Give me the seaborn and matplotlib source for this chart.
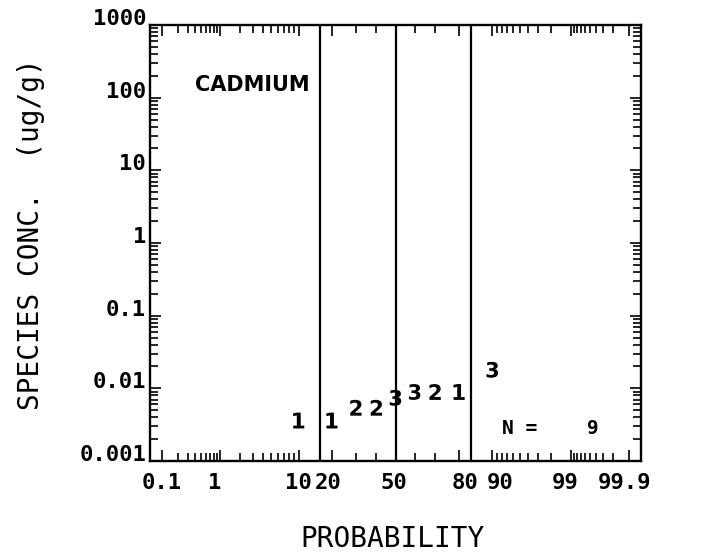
import numpy as np
import matplotlib
matplotlib.use("Agg")
import matplotlib.pyplot as plt
import matplotlib.transforms as mtransforms
from matplotlib.ticker import NullFormatter
import pandas as pd
import seaborn as sns
from statistics import NormalDist

# ranked samples: plotting position (%), concentration (ug/g), digit drawn
prob_pct = [10, 20, 30, 40, 50, 60, 70, 80, 90]
conc_ugg = [0.0036, 0.0036, 0.0054, 0.0054, 0.0074, 0.0089, 0.0089, 0.0089, 0.018]
digits = ["1", "1", "2", "2", "3", "3", "2", "1", "3"]
n_samples = 9

# mean and +/- 1 sigma reference lines
ref_lines_pct = [15.87, 50, 84.13]

x_ticks = [0.1, 1, 10, 20, 50, 80, 90, 99, 99.9]
x_tick_labels = ["0.1", "1", "10", "20", "50", "80", "90", "99", "99.9"]
x_minor_ticks = ([0.2, 0.3, 0.4, 0.5, 0.6, 0.7, 0.8, 0.9] + [2, 3, 4, 5, 6, 7, 8, 9]
                 + [30, 40, 60, 70] + [91, 92, 93, 94, 95, 96, 97, 98]
                 + [99.1, 99.2, 99.3, 99.4, 99.5, 99.6, 99.7, 99.8])
y_ticks = [0.001, 0.01, 0.1, 1, 10, 100, 1000]
y_tick_labels = ["0.001", "0.01", "0.1", "1", "10", "100", "1000"]

df = pd.DataFrame({"prob": prob_pct, "conc": conc_ugg, "count": digits})

sns.set_style("ticks")
plt.rcParams["font.family"] = ["DejaVu Sans Mono", "DejaVu Sans"]
plt.rcParams["text.color"] = "black"
plt.rcParams["axes.labelcolor"] = "black"

nd = NormalDist()
_ppf = np.vectorize(nd.inv_cdf, otypes=[float])
_cdf = np.vectorize(nd.cdf, otypes=[float])


def to_z(p):
    p = np.clip(np.asarray(p, dtype=float), 1e-4, 100 - 1e-4)
    return _ppf(p / 100.0)


def from_z(z):
    return _cdf(np.asarray(z, dtype=float)) * 100.0


fig = plt.figure(figsize=(7.04, 5.57), dpi=100)
ax = fig.add_axes([0.2131, 0.1724, 0.6974, 0.7827])
ax.set_xscale("function", functions=(to_z, from_z))
ax.set_yscale("log")

marker_map = {d: "$\\mathbf{%s}$" % d for d in sorted(set(digits))}
sns.scatterplot(data=df, x="prob", y="conc", style="count", markers=marker_map,
                s=130, color="black", linewidth=0, legend=False, ax=ax)

for p in ref_lines_pct:
    ax.axvline(p, color="black", lw=1.6)

# frame runs a little past 0.1 / 99.9 (z = -3.25 .. 3.25)
ax.set_xlim(from_z(-3.25), from_z(3.25))
ax.set_ylim(0.001, 1000)

ax.set_xticks(x_ticks, labels=[])
ax.set_xticks(x_minor_ticks, minor=True)
ax.xaxis.set_minor_formatter(NullFormatter())
ax.set_yticks(y_ticks, labels=[])
ax.yaxis.set_minor_formatter(NullFormatter())
ax.tick_params(which="both", direction="in", top=True, right=True,
               width=1.2, color="black", labelbottom=False, labelleft=False)
ax.tick_params(which="major", length=8)
ax.tick_params(which="minor", length=5.5)
for s in ax.spines.values():
    s.set_linewidth(1.7)
    s.set_color("black")

tick_font = dict(fontfamily="DejaVu Sans Mono", fontweight="bold", fontsize=16)

# x tick labels, nudged like the plotter output
x_label_shift = [0, -5, 0, -4, -2, 6, 8, -6, -4]
for v, lab, dx in zip(x_ticks, x_tick_labels, x_label_shift):
    tr = mtransforms.offset_copy(ax.get_xaxis_transform(), fig=fig, x=dx, y=0, units="dots")
    ax.text(v, -0.05, lab, transform=tr, ha="center", va="center", **tick_font)

# y tick labels sit on top of their tick
for v, lab in zip(y_ticks, y_tick_labels):
    ax.text(-0.008, v, lab, transform=ax.get_yaxis_transform(),
            ha="right", va="baseline", **tick_font)

ax.set_xlabel("PROBABILITY", fontsize=20, fontfamily="DejaVu Sans Mono")
ax.set_ylabel("SPECIES CONC.  (ug/g)", fontsize=20, fontfamily="DejaVu Sans Mono")
ax.xaxis.set_label_coords(0.493, -0.148)
ax.yaxis.set_label_coords(-0.213, 0.52)

ax.text(0.092, 0.862, "CADMIUM", transform=ax.transAxes, ha="left", va="center",
        fontfamily="DejaVu Sans", fontweight="bold", fontsize=15)
ax.text(0.752, 0.074, "N =", transform=ax.transAxes, ha="center", va="center",
        fontfamily="DejaVu Sans Mono", fontweight="bold", fontsize=14)
ax.text(0.902, 0.074, str(n_samples), transform=ax.transAxes, ha="center", va="center",
        fontfamily="DejaVu Sans Mono", fontweight="bold", fontsize=14)

fig.savefig("out.png", dpi=100)
